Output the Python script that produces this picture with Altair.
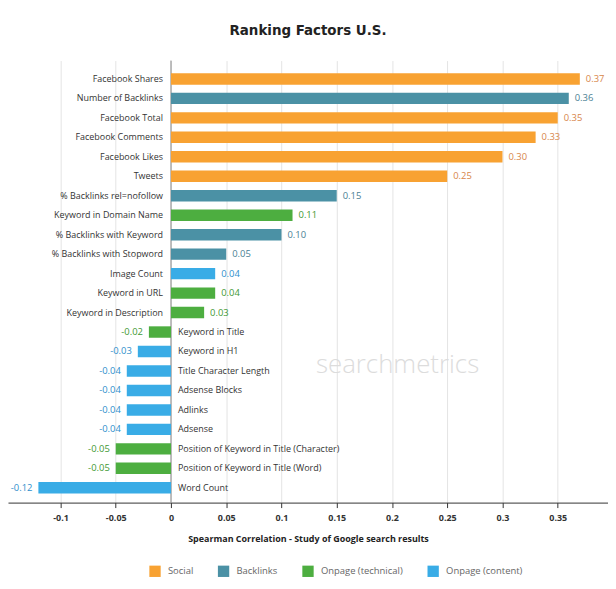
import altair as alt
import pandas as pd

factors = [
    "Facebook Shares", "Number of Backlinks", "Facebook Total", "Facebook Comments",
    "Facebook Likes", "Tweets", "% Backlinks rel=nofollow", "Keyword in Domain Name",
    "% Backlinks with Keyword", "% Backlinks with Stopword", "Image Count",
    "Keyword in URL", "Keyword in Description", "Keyword in Title", "Keyword in H1",
    "Title Character Length", "Adsense Blocks", "Adlinks", "Adsense",
    "Position of Keyword in Title (Character)", "Position of Keyword in Title (Word)",
    "Word Count",
]
values = [0.37, 0.36, 0.35, 0.33, 0.30, 0.25, 0.15, 0.11, 0.10, 0.05, 0.04, 0.04, 0.03,
          -0.02, -0.03, -0.04, -0.04, -0.04, -0.04, -0.05, -0.05, -0.12]
groups = [
    "Social", "Backlinks", "Social", "Social", "Social", "Social", "Backlinks",
    "Onpage (technical)", "Backlinks", "Backlinks", "Onpage (content)",
    "Onpage (technical)", "Onpage (technical)", "Onpage (technical)", "Onpage (content)",
    "Onpage (content)", "Onpage (content)", "Onpage (content)", "Onpage (content)",
    "Onpage (technical)", "Onpage (technical)", "Onpage (content)",
]
group_names = ["Social", "Backlinks", "Onpage (technical)", "Onpage (content)"]
bar_colors = ["#F8A232", "#4B91A5", "#4DAE40", "#39ACE6"]
label_colors = ["#D7864A", "#4A8194", "#3F9934", "#2F8FCC"]
tick_values = [-0.1, -0.05, 0, 0.05, 0.1, 0.15, 0.2, 0.25, 0.3, 0.35]

df = pd.DataFrame({"factor": factors, "value": values, "group": groups})
df["label"] = [f"{v:.2f}" for v in values]

FONT = "Open Sans"
TITLE_FONT = "'Liberation Sans Narrow', 'DejaVu Sans Condensed', 'Roboto', sans-serif"
W, H = 604, 445

xscale = alt.Scale(domain=[-0.1475, 0.3955], nice=False, zero=False)
yscale = alt.Scale(domain=factors, paddingInner=0, paddingOuter=0.352, align=0.63)
y = alt.Y("factor:N", scale=yscale, axis=None, sort=factors)

base = alt.Chart(df)

bars = base.mark_bar(size=11.5).encode(
    x=alt.X("value:Q", scale=xscale,
            axis=alt.Axis(values=tick_values, labelExpr="'' + datum.value",
                          title="Spearman Correlation - Study of Google search results",
                          grid=True)),
    x2=alt.datum(0),
    y=y,
    color=alt.Color("group:N", scale=alt.Scale(domain=group_names, range=bar_colors),
                    legend=alt.Legend(title=None, orient="none", direction="horizontal",
                                      legendX=142, legendY=508, symbolType="square",
                                      symbolSize=130, symbolStrokeWidth=0,
                                      labelFont=FONT, labelFontSize=9.5, labelColor="#666",
                                      columnPadding=24, labelOffset=7)),
)

zero = alt.Chart(pd.DataFrame({"z": [0]})).mark_rule(color="#888", strokeWidth=1).encode(
    x=alt.X("z:Q", scale=xscale)
)

label_fill = alt.Fill("group:N", scale=alt.Scale(domain=group_names, range=label_colors),
                      legend=None)

val_pos = base.transform_filter("datum.value >= 0").mark_text(
    align="left", baseline="middle", dx=6, font=FONT, fontSize=9.5
).encode(x=alt.X("value:Q", scale=xscale), y=y, text="label:N", fill=label_fill)

val_neg = base.transform_filter("datum.value < 0").mark_text(
    align="right", baseline="middle", dx=-6, font=FONT, fontSize=9.5
).encode(x=alt.X("value:Q", scale=xscale), y=y, text="label:N", fill=label_fill)

cat_pos = base.transform_filter("datum.value >= 0").mark_text(
    align="right", baseline="middle", dx=-8, font=FONT, fontSize=9, color="#333"
).encode(x=alt.datum(0), y=y, text="factor:N")

cat_neg = base.transform_filter("datum.value < 0").mark_text(
    align="left", baseline="middle", dx=7, font=FONT, fontSize=9, color="#333"
).encode(x=alt.datum(0), y=y, text="factor:N")

wm = alt.Chart(pd.DataFrame({"t": ["searchmetrics"]})).mark_text(
    align="left", baseline="middle", font=FONT, fontSize=26, fontWeight=300,
    color="#dcdcdc"
).encode(x=alt.value(310), y=alt.value(307), text="t:N")

chart = alt.layer(wm, zero, bars, val_pos, val_neg, cat_pos, cat_neg).properties(
    width=W, height=H,
    padding={"left": 0, "top": 13, "right": 0, "bottom": 0},
    title=alt.TitleParams("Ranking Factors U.S.", font=TITLE_FONT,
                          fontSize=15, fontWeight="bold", color="#222",
                          anchor="middle", offset=22),
).configure_view(stroke=None).configure_axis(
    domainColor="#333", domainWidth=1, tickColor="#333", tickSize=5,
    labelFont=FONT, labelFontSize=9, labelFontWeight="bold", labelColor="#333",
    labelPadding=6, titleFont=FONT, titleFontSize=9, titleFontWeight="bold",
    titleColor="#222", titlePadding=12, gridColor="#e4e4e4",
)

chart.save("out.html", embed_options={"renderer": "svg", "actions": False})
